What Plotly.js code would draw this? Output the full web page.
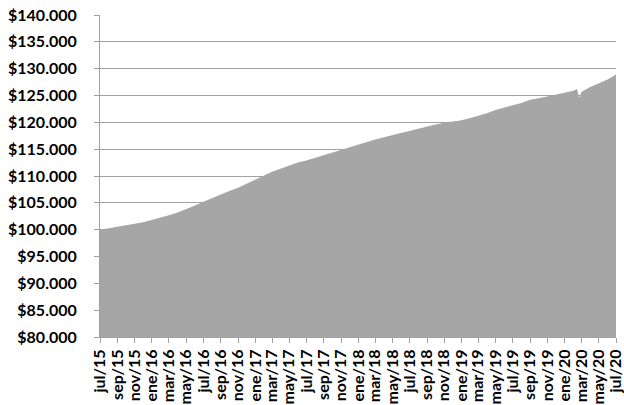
<!DOCTYPE html>
<html>
<head>
<meta charset="utf-8">
<script src="https://cdn.plot.ly/plotly-3.0.1.min.js"></script>
<style>html,body{margin:0;padding:0;background:#fff;}#chart{width:624px;height:405px;}</style>
</head>
<body>
<div id="chart"></div>
<script>
var dates = [
  "2015-07-01","2015-08-01","2015-09-01","2015-10-01","2015-11-01","2015-12-01",
  "2016-01-01","2016-02-01","2016-03-01","2016-04-01","2016-05-01","2016-06-01",
  "2016-07-01","2016-08-01","2016-09-01","2016-10-01","2016-11-01","2016-12-01",
  "2017-01-01","2017-02-01","2017-03-01","2017-04-01","2017-05-01","2017-06-01",
  "2017-07-01","2017-08-01","2017-09-01","2017-10-01","2017-11-01","2017-12-01",
  "2018-01-01","2018-02-01","2018-03-01","2018-04-01","2018-05-01","2018-06-01",
  "2018-07-01","2018-08-01","2018-09-01","2018-10-01","2018-11-01","2018-12-01",
  "2019-01-01","2019-02-01","2019-03-01","2019-04-01","2019-05-01","2019-06-01",
  "2019-07-01","2019-08-01","2019-09-01","2019-10-01","2019-11-01","2019-12-01",
  "2020-01-01","2020-02-01","2020-02-14","2020-02-22","2020-03-01","2020-04-01",
  "2020-05-01","2020-06-01","2020-07-01"
];
var values = [
  100000,100250,100500,100800,101100,101400,
  101800,102200,102700,103200,103800,104500,
  105200,105900,106600,107200,107800,108600,
  109400,110100,110800,111400,112000,112500,
  112900,113400,113900,114400,114900,115400,
  115900,116400,116800,117200,117600,117900,
  118300,118700,119200,119600,119900,120100,
  120400,120800,121200,121700,122300,122800,
  123200,123600,124200,124500,124800,125100,
  125500,125900,126200,124600,125700,126600,
  127300,128000,128900
];
var tickDates = [
  "2015-07-01","2015-09-01","2015-11-01","2016-01-01","2016-03-01","2016-05-01",
  "2016-07-01","2016-09-01","2016-11-01","2017-01-01","2017-03-01","2017-05-01",
  "2017-07-01","2017-09-01","2017-11-01","2018-01-01","2018-03-01","2018-05-01",
  "2018-07-01","2018-09-01","2018-11-01","2019-01-01","2019-03-01","2019-05-01",
  "2019-07-01","2019-09-01","2019-11-01","2020-01-01","2020-03-01","2020-05-01",
  "2020-07-01"
];
var tickLabels = [
  "jul/15","sep/15","nov/15","ene/16","mar/16","may/16",
  "jul/16","sep/16","nov/16","ene/17","mar/17","may/17",
  "jul/17","sep/17","nov/17","ene/18","mar/18","may/18",
  "jul/18","sep/18","nov/18","ene/19","mar/19","may/19",
  "jul/19","sep/19","nov/19","ene/20","mar/20","may/20",
  "jul/20"
];
var yTicks = [80000,85000,90000,95000,100000,105000,110000,115000,120000,125000,130000,135000,140000];
var yLabels = ["$80.000","$85.000","$90.000","$95.000","$100.000","$105.000","$110.000",
  "$115.000","$120.000","$125.000","$130.000","$135.000","$140.000"];

var trace = {
  x: dates, y: values, type: 'scatter', mode: 'lines',
  line: {width: 0, color: '#A6A6A6'},
  fill: 'tozeroy', fillcolor: '#A6A6A6',
  hoverinfo: 'skip'
};
var layout = {
  width: 624, height: 405,
  margin: {l: 100, r: 8, t: 15, b: 68},
  paper_bgcolor: '#fff', plot_bgcolor: '#fff',
  showlegend: false,
  font: {family: 'Lato, Roboto, sans-serif', color: '#000'},
  xaxis: {
    type: 'date',
    range: ['2015-07-01', '2020-07-01'],
    tickmode: 'array', tickvals: tickDates, ticktext: tickLabels,
    tickangle: -90,
    ticklabeloverflow: 'allow',
    tickfont: {family: 'Lato, Roboto, sans-serif', size: 16, color: '#000', weight: 700},
    showgrid: false, zeroline: false,
    showline: true, linecolor: '#A0A0A0', linewidth: 1,
    ticks: 'outside', ticklen: 5, tickcolor: '#A0A0A0', tickwidth: 1,
    automargin: false
  },
  yaxis: {
    range: [80000, 140000],
    tickmode: 'array', tickvals: yTicks, ticktext: yLabels,
    ticklabelstandoff: 14,
    tickfont: {family: 'Lato, Roboto, sans-serif', size: 16, color: '#000', weight: 700},
    showgrid: true, gridcolor: '#A0A0A0', gridwidth: 1,
    zeroline: false,
    showline: true, linecolor: '#A0A0A0', linewidth: 1,
    ticks: 'outside', ticklen: 5, tickcolor: '#A0A0A0', tickwidth: 1,
    automargin: false
  }
};
Plotly.newPlot('chart', [trace], layout, {displayModeBar: false, staticPlot: true});
</script>
</body>
</html>
